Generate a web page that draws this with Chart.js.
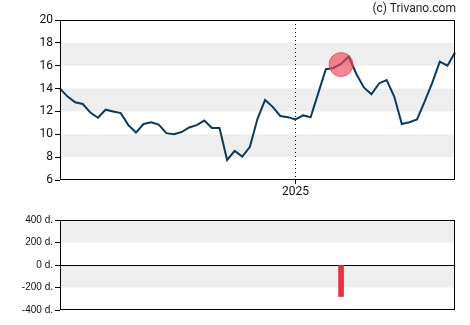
<!DOCTYPE html>
<html>
<head>
<meta charset="utf-8">
<script src="https://cdn.jsdelivr.net/npm/chart.js@4"></script>
<style>
  body { margin: 0; background: #fff; }
  #wrap { position: relative; width: 470px; height: 325px; }
  canvas { position: absolute; left: 0; }
  #priceChart { top: 0; }
  #signalChart { top: 200px; }
  #copy { position: absolute; right: 14px; top: 1px; font: 12px Roboto, sans-serif; color: #222; }
</style>
</head>
<body>
<div id="wrap">
  <canvas id="priceChart" width="470" height="200"></canvas>
  <canvas id="signalChart" width="470" height="125"></canvas>
  <div id="copy">(c) Trivano.com</div>
</div>
<script>
// weekly closes
const weeks = [
  '2024-05-27', '2024-06-03', '2024-06-10', '2024-06-17', '2024-06-24', '2024-07-01', '2024-07-08',
  '2024-07-15', '2024-07-22', '2024-07-29', '2024-08-05', '2024-08-12', '2024-08-19', '2024-08-26',
  '2024-09-02', '2024-09-09', '2024-09-16', '2024-09-23', '2024-09-30', '2024-10-07', '2024-10-14',
  '2024-10-21', '2024-10-28', '2024-11-04', '2024-11-11', '2024-11-18', '2024-11-25', '2024-12-02',
  '2024-12-09', '2024-12-16', '2024-12-23', '2025-01-02', '2025-01-06', '2025-01-13', '2025-01-20',
  '2025-01-27', '2025-02-03', '2025-02-10', '2025-02-17', '2025-02-24', '2025-03-03', '2025-03-10',
  '2025-03-17', '2025-03-24', '2025-03-31', '2025-04-07', '2025-04-14', '2025-04-21', '2025-04-28',
  '2025-05-05', '2025-05-12', '2025-05-19', '2025-05-26'
]
const closes = [
  14.0, 13.3, 12.8, 12.65, 11.9, 11.45, 12.15, 12.0, 11.85, 10.8, 10.15, 10.9, 11.05, 10.85,
  10.1, 10.0, 10.2, 10.6, 10.8, 11.2, 10.55, 10.55, 7.75, 8.55, 8.05, 8.9, 11.35, 13.0,
  12.4, 11.6, 11.5, 11.3, 11.65, 11.5, 13.6, 15.7, 15.8, 16.15, 16.8, 15.3, 14.1, 13.5,
  14.45, 14.75, 13.3, 10.9, 11.05, 11.3, 12.85, 14.5, 16.35, 16.0, 17.15
]
// sell signal: marker on the price, bar with its days
const signalWeek = '2025-02-10'
const signalPrice = 16.1
const signalDays = -280

const priceTicks = [6, 8, 10, 12, 14, 16, 18, 20]
const dayTicks = [-400, -200, 0, 200, 400]

const markers = weeks.map(w => (w === signalWeek ? signalPrice : null))
const dayBars = weeks.map(w => (w === signalWeek ? signalDays : null))

// grey bands on every other tick interval + a black box round the plot
const frame = {
  id: 'frame',
  beforeDraw (chart) {
    const { ctx, chartArea: a, scales: { y } } = chart
    const vals = chart.options.bandTicks
    ctx.save()
    ctx.fillStyle = '#eeeeee'
    for (let i = 1; i < vals.length - 1; i += 2) {
      const t = y.getPixelForValue(vals[i + 1])
      const b = y.getPixelForValue(vals[i])
      ctx.fillRect(a.left, t, a.right - a.left, b - t)
    }
    ctx.restore()
  },
  afterDraw (chart) {
    const { ctx, chartArea: a } = chart
    ctx.save()
    ctx.strokeStyle = '#000'
    ctx.lineWidth = 1
    const l = Math.round(a.left) + 0.5
    const t = Math.round(a.top) + 0.5
    const r = Math.round(a.right) - 0.5
    const b = Math.round(a.bottom) - 0.5
    ctx.strokeRect(l, t, r - l, b - t)
    ctx.restore()
  }
}

const yearStart = i => i > 0 && weeks[i].slice(0, 4) !== weeks[i - 1].slice(0, 4)

new Chart(document.getElementById('priceChart'), {
  type: 'line',
  data: {
    labels: weeks,
    datasets: [{
      data: markers,
      showLine: false,
      pointRadius: 12,
      pointBackgroundColor: 'rgba(238, 70, 88, 0.65)',
      pointBorderColor: 'rgba(225, 60, 80, 0.7)',
      pointBorderWidth: 1,
      order: 0
    }, {
      data: closes,
      borderColor: '#0e3a5a',
      borderWidth: 2,
      pointRadius: 0,
      tension: 0,
      order: 1
    }]
  },
  options: {
    responsive: false,
    animation: false,
    bandTicks: priceTicks,
    layout: { padding: { top: 20, right: 15, left: 0, bottom: 0 } },
    plugins: { legend: { display: false }, tooltip: { enabled: false } },
    scales: {
      x: {
        offset: false,
        afterFit (s) { s.height = 20 },
        border: { display: false, dash: [1, 3] },
        grid: {
          color: c => (c.index !== undefined && yearStart(c.index) ? '#000' : 'transparent'),
          tickColor: c => (c.index !== undefined && yearStart(c.index) ? '#000' : 'transparent'),
          tickLength: 4
        },
        ticks: {
          autoSkip: false,
          maxRotation: 0,
          padding: 1,
          color: '#111',
          font: { family: 'Roboto', size: 12 },
          callback: (v, i) => (yearStart(i) ? weeks[i].slice(0, 4) : '')
        }
      },
      y: {
        min: 6,
        max: 20,
        afterFit (s) { s.width = 60 },
        afterBuildTicks (s) { s.ticks = priceTicks.map(v => ({ value: v })) },
        border: { display: false },
        grid: { drawOnChartArea: false, tickColor: '#000', tickLength: 5 },
        ticks: { padding: 2, color: '#111', font: { family: 'Roboto', size: 12 } }
      }
    }
  },
  plugins: [frame]
})

new Chart(document.getElementById('signalChart'), {
  type: 'bar',
  data: {
    labels: weeks,
    datasets: [{
      data: dayBars,
      backgroundColor: '#e8303f',
      barThickness: 5
    }]
  },
  options: {
    responsive: false,
    animation: false,
    bandTicks: dayTicks,
    layout: { padding: { top: 20, right: 15, left: 0, bottom: 15 } },
    plugins: { legend: { display: false }, tooltip: { enabled: false } },
    scales: {
      x: { display: false, offset: false },
      y: {
        min: -400,
        max: 400,
        afterFit (s) { s.width = 60 },
        afterBuildTicks (s) { s.ticks = dayTicks.map(v => ({ value: v })) },
        border: { display: false },
        grid: {
          color: c => (c.tick && c.tick.value === 0 ? '#000' : 'transparent'),
          tickColor: '#000',
          tickLength: 5
        },
        ticks: {
          padding: 2,
          color: '#111',
          font: { family: 'Liberation Sans', size: 10 },
          callback: v => v + ' d.'
        }
      }
    }
  },
  plugins: [frame]
})
</script>
</body>
</html>
